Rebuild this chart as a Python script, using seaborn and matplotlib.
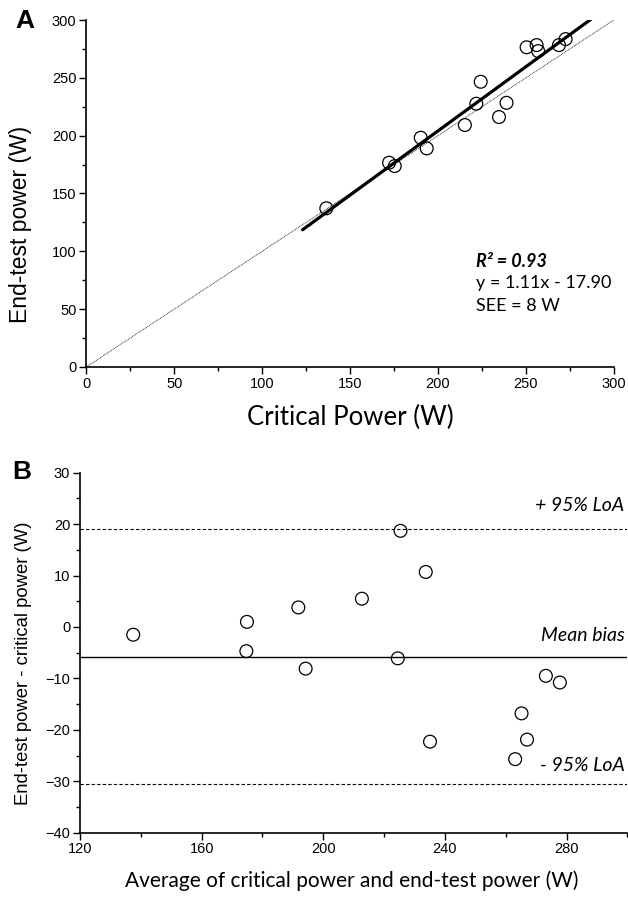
import numpy as np
import pandas as pd
import seaborn as sns
import matplotlib.pyplot as plt
from matplotlib.ticker import MultipleLocator

# panel A: critical power vs end-test power (W)
cp = [136.5, 172.2, 175.4, 190.2, 193.6, 215.3, 221.8, 224.3, 234.7, 239.0, 250.4, 256.1, 257.0, 268.8, 272.6]
etp = [137.2, 176.6, 173.7, 198.2, 189.0, 209.2, 227.6, 246.6, 216.1, 228.4, 276.4, 278.3, 273.1, 278.3, 283.5]
fit_slope = 1.11
fit_intercept = -17.90
fit_range = [123, 287]
identity = [0, 300]

# panel B: Bland-Altman
ba_mean = [137.5, 174.9, 174.7, 191.8, 194.2, 212.7, 224.5, 225.4, 233.7, 235.1, 263.1, 265.2, 267.0, 273.2, 277.8]
ba_diff = [-1.5, 1.0, -4.7, 3.8, -8.1, 5.5, -6.1, 18.7, 10.7, -22.3, -25.7, -16.8, -21.9, -9.5, -10.8]
bias = -5.9
loa_upper = 19.0
loa_lower = -30.6

sns.set_style("ticks")
plt.rcParams["font.family"] = ["Liberation Sans", "DejaVu Sans"]
for key in ("text.color", "axes.labelcolor", "xtick.color", "ytick.color", "axes.edgecolor"):
    plt.rcParams[key] = "black"
calibri = ["Lato", "DejaVu Sans"]

fig = plt.figure(figsize=(6.28, 8.97), dpi=100)
axA = fig.add_axes([0.1374, 0.5909, 0.8400, 0.3868])
axB = fig.add_axes([0.1274, 0.0717, 0.8716, 0.4013])

circ = dict(marker="o", s=85, facecolor="none", edgecolor="black", linewidth=0.9, zorder=3)

# ---- A ----
sns.lineplot(x=identity, y=identity, ax=axA, color="black", lw=0.6, linestyle=(0, (1, 1)), zorder=1)
fit_y = [fit_slope * v + fit_intercept for v in fit_range]
sns.lineplot(x=fit_range, y=fit_y, ax=axA, color="black", lw=2.3, zorder=2)
sns.scatterplot(x=cp, y=etp, ax=axA, **circ)

axA.set_xlim(0, 300)
axA.set_ylim(0, 300)
axA.xaxis.set_major_locator(MultipleLocator(50))
axA.xaxis.set_minor_locator(MultipleLocator(25))
axA.yaxis.set_major_locator(MultipleLocator(50))
axA.yaxis.set_minor_locator(MultipleLocator(25))
axA.set_xlabel("Critical Power (W)", fontsize=18.5, family=calibri)
axA.set_ylabel("End-test power (W)", fontsize=16.5)
axA.xaxis.set_label_coords(0.5, -0.11)
axA.yaxis.set_label_coords(-0.102, 0.412)

axA.text(221.4, 91.6, "R² = 0.93", fontsize=13, fontweight="bold", style="italic", family=calibri, va="center")
axA.text(221.4, 72.6, "y = 1.11x - 17.90", fontsize=13, family=calibri, va="center")
axA.text(221.4, 52.7, "SEE = 8 W", fontsize=13, family=calibri, va="center")

# ---- B ----
axB.axhline(bias, color="black", lw=1.0, zorder=1)
axB.axhline(loa_upper, color="black", lw=0.8, linestyle=(0, (3, 2)), zorder=1)
axB.axhline(loa_lower, color="black", lw=0.8, linestyle=(0, (3, 2)), zorder=1)
sns.scatterplot(x=ba_mean, y=ba_diff, ax=axB, **circ)

axB.set_xlim(120, 300)
axB.set_ylim(-40, 30)
axB.xaxis.set_major_locator(MultipleLocator(40))
axB.xaxis.set_minor_locator(MultipleLocator(20))
axB.yaxis.set_major_locator(MultipleLocator(10))
axB.yaxis.set_minor_locator(MultipleLocator(5))
axB.set_xticks([120, 160, 200, 240, 280])
axB.set_xlabel("Average of critical power and end-test power (W)", fontsize=15, family=calibri)
axB.set_ylabel("End-test power - critical power (W)", fontsize=13.3)
axB.xaxis.set_label_coords(0.496, -0.105)
axB.yaxis.set_label_coords(-0.0876, 0.47)

axB.text(299, 23.6, "+ 95% LoA", fontsize=14, style="italic", family=calibri, ha="right", va="center")
axB.text(299, -1.7, "Mean bias", fontsize=14, style="italic", family=calibri, ha="right", va="center")
axB.text(299, -27.0, "- 95% LoA", fontsize=14, style="italic", family=calibri, ha="right", va="center")

for ax in (axA, axB):
    sns.despine(ax=ax)
    for s in ("left", "bottom"):
        ax.spines[s].set_linewidth(1.2)
        ax.spines[s].set_color("black")
    ax.tick_params(which="major", direction="out", length=5, width=1, labelsize=10.5, pad=2, color="black")
    ax.tick_params(which="minor", direction="out", length=3, width=1, color="black")

fig.text(0.04, 0.977, "A", fontsize=19, fontweight="bold", ha="center", va="center")
fig.text(0.035, 0.474, "B", fontsize=19, fontweight="bold", ha="center", va="center")

fig.savefig("out.png", dpi=100)
